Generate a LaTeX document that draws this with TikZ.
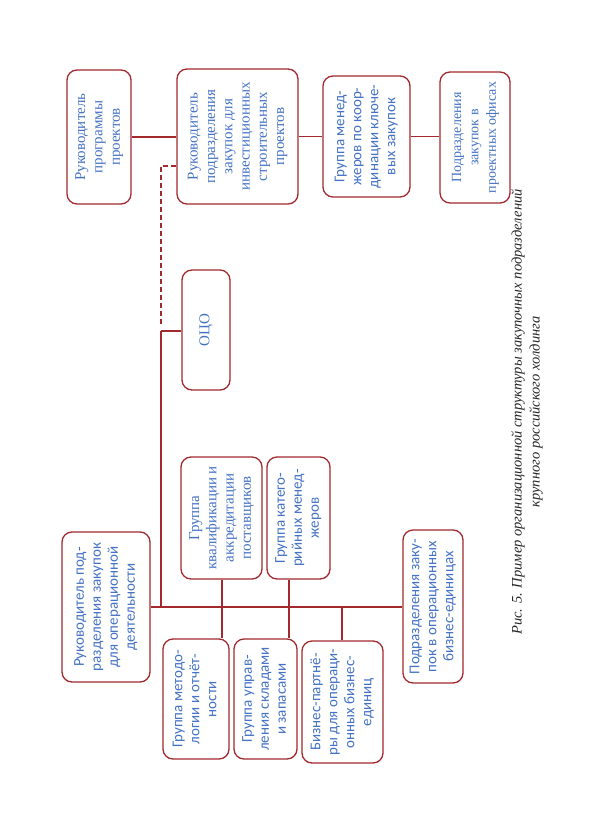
\documentclass[tikz,border=0pt]{standalone}
\usepackage{fontspec}
\setmainfont{Liberation Serif}
\newfontfamily\sansbox{Carlito}
\newfontfamily\serifbox{Liberation Serif}
\definecolor{boxred}{RGB}{162,41,46}
\definecolor{txtblue}{RGB}{68,114,196}
\newcommand{\vtext}[1]{\rotatebox{90}{\begin{tabular}{@{}c@{}}#1\end{tabular}}}
\begin{document}
\begin{tikzpicture}[x=1pt,y=-1pt,
  box/.style={draw=boxred, line width=1.3pt, rounded corners=10pt, inner sep=0pt, text=txtblue},
  serifb/.style={box, font=\serifbox\fontsize{15}{17.3}\selectfont},
  serifsmall/.style={box, font=\serifbox\fontsize{14}{17.3}\selectfont},
  sansb/.style={box, font=\sansbox\fontsize{15}{17}\selectfont},
  link/.style={draw=boxred, line width=1.3pt},
  dlink/.style={link, dash pattern=on 5pt off 3pt}]
\fill[white] (0,0) rectangle (591,818);
\useasboundingbox (0,0) rectangle (591,818);

\node[serifb, minimum width=64, minimum height=134] (pp) at (99,137) {\vtext{Руководитель\\программы\\проектов}};
\node[serifb, minimum width=121, minimum height=135] (inv) at (237.5,136.5) {\vtext{Руководитель\\подразделения\\закупок для\\инвестиционных\\строительных\\проектов}};
\node[sansb, minimum width=87, minimum height=121] (key) at (366.5,136.5) {\vtext{Группа менед-\\жеров по коор-\\динации ключе-\\вых закупок}};
\node[serifsmall, minimum width=70, minimum height=131] (po) at (475,137.5) {\vtext{Подразделения\\закупок в\\проектных офисах}};
\node[serifb, minimum width=48, minimum height=120] (oco) at (206,330) {\vtext{ОЦО}};
\node[sansb, minimum width=88, minimum height=150] (ops) at (106,607) {\vtext{Руководитель под-\\разделения закупок\\для операционной\\деятельности}};
\node[serifb, minimum width=81, minimum height=122] (kval) at (221.5,518) {\vtext{Группа\\квалификации и\\аккредитации\\поставщиков}};
\node[sansb, minimum width=63, minimum height=122] (cat) at (298.5,518) {\vtext{Группа катего-\\рийных менед-\\жеров}};
\node[sansb, minimum width=66, minimum height=120] (met) at (196,699) {\vtext{Группа методо-\\логии и отчёт-\\ности}};
\node[sansb, minimum width=63, minimum height=120] (upr) at (265.5,699) {\vtext{Группа управ-\\ления складами\\и запасами}};
\node[sansb, minimum width=81, minimum height=122] (biz) at (342.5,702) {\vtext{Бизнес-партнё-\\ры для операци-\\онных бизнес-\\единиц}};
\node[sansb, minimum width=60, minimum height=153] (obu) at (433,606.5) {\vtext{Подразделения заку-\\пок в операционных\\бизнес-единицах}};

\coordinate (d1) at (161,166);
\coordinate (d2) at (161,325);
\coordinate (j) at (161,331);
\coordinate (m) at (161,607);
\coordinate (c1) at (222,607);
\coordinate (c2) at (289,607);
\coordinate (c3) at (342,607);

\draw[link] (pp.east) -- (pp.east -| inv.west);
\draw[link] (inv.east) -- (inv.east -| key.west);
\draw[link] (key.east) -- (key.east -| po.west);
\draw[dlink] (inv.west |- d1) -- (d1) -- (d2);
\draw[link] (j) -- (j -| oco.west);
\draw[link] (j) -- (m);
\draw[link] (ops.east) -- (ops.east -| obu.west);
\draw[link] (kval.south -| c1) -- (met.north -| c1);
\draw[link] (cat.south -| c2) -- (upr.north -| c2);
\draw[link] (c3) -- (biz.north -| c3);

\node[font=\itshape\fontsize{14.5}{18}\selectfont, rotate=90, align=center, text=black!85] (cap) at (527,412) {Рис. 5. Пример организационной структуры закупочных подразделений\\крупного российского холдинга};
\end{tikzpicture}
\end{document}
